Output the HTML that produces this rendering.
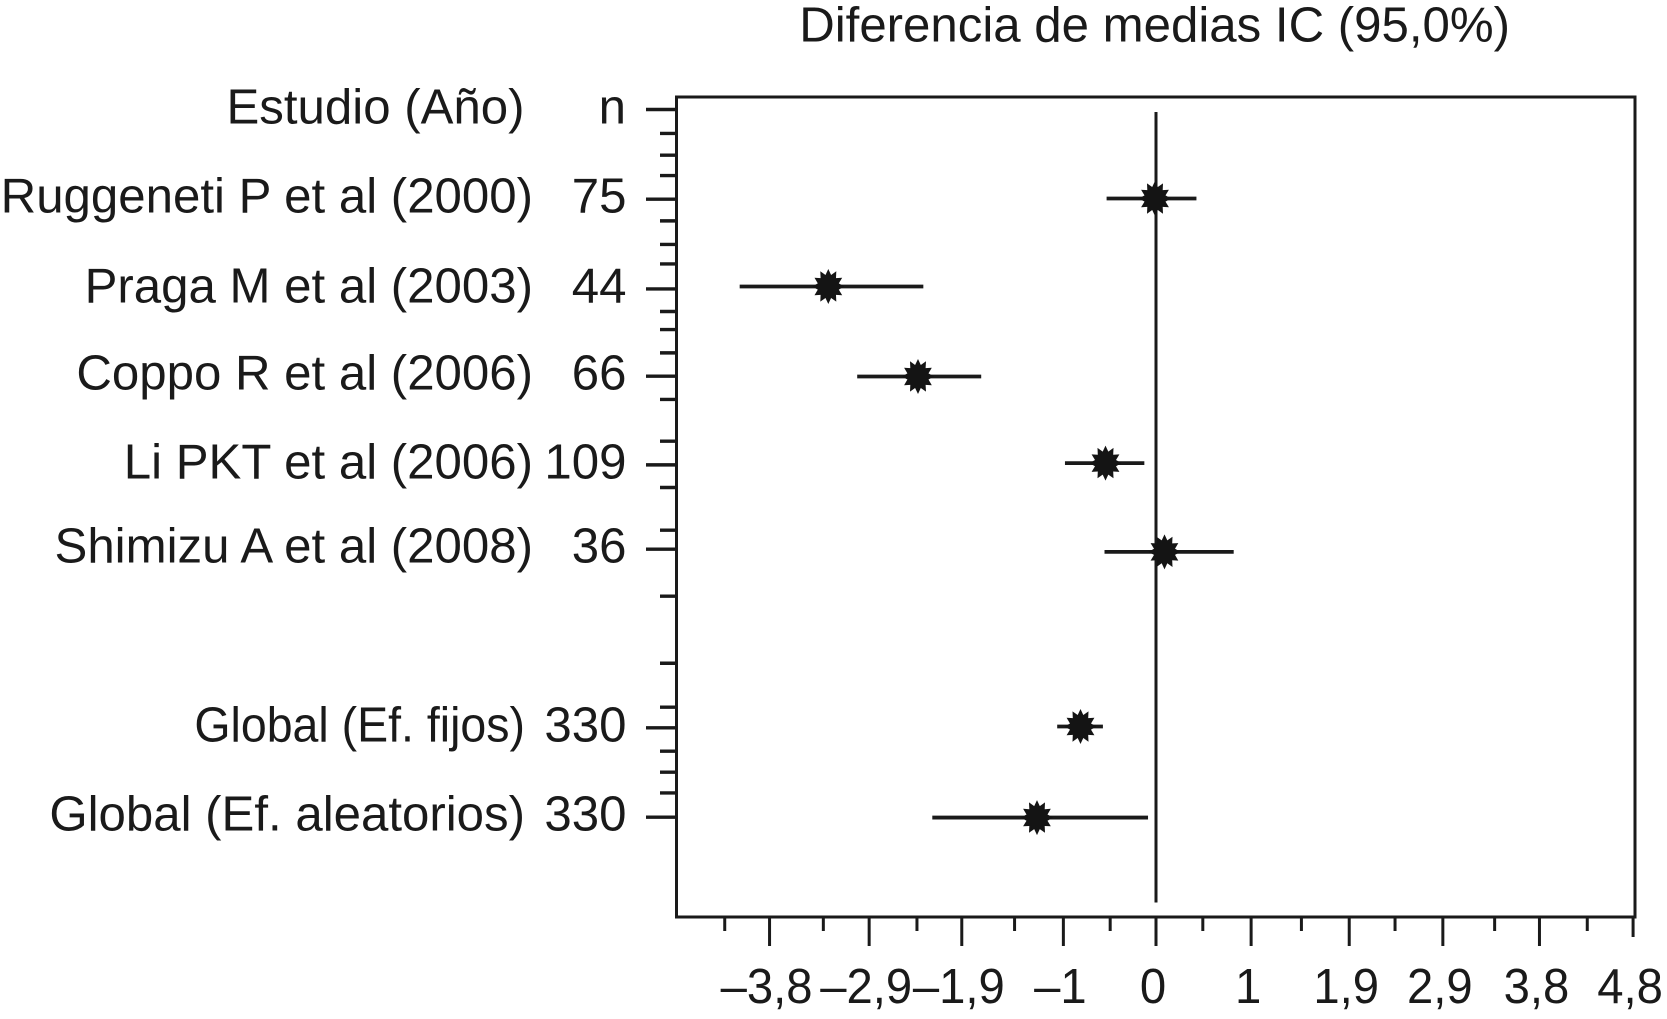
<!DOCTYPE html>
<html lang="es">
<head>
<meta charset="utf-8">
<title>Diferencia de medias IC (95,0%)</title>
<style>
html,body{margin:0;padding:0;background:#fff;width:1667px;height:1019px;overflow:hidden}
svg{display:block}
text{font-family:"Liberation Sans",Arial,sans-serif;font-size:49.2px;fill:#1a1a1a}
</style>
</head>
<body>
<svg id="chart" xmlns="http://www.w3.org/2000/svg" width="1667" height="1019" viewBox="0 0 1667 1019">
  <rect x="0" y="0" width="1667" height="1019" fill="#fff"/>
  <text x="1510" y="41.5" text-anchor="end">Diferencia de medias IC (95,0%)</text>
  <text x="524.5" y="123.3" text-anchor="end">Estudio (Año)</text>
  <text x="626" y="123.3" text-anchor="end">n</text>
  <rect x="676.5" y="97" width="958.5" height="820" fill="none" stroke="#1a1a1a" stroke-width="3"/>
  <g id="y-ticks"></g>
  <g id="x-ticks"></g>
  <g id="x-labels"></g>
  <g id="zero-line-group"></g>
  <g id="rows"></g>
</svg>
<script>
// Study data (mean difference with 95% CI)
const studies = ["Ruggeneti P et al (2000)", "Praga M et al (2003)", "Coppo R et al (2006)", "Li PKT et al (2006)", "Shimizu A et al (2008)", "Global (Ef. fijos)", "Global (Ef. aleatorios)"];
const sampleSizes = ["75", "44", "66", "109", "36", "330", "330"];
const meanDiff = [-0.01, -3.29, -2.39, -0.507, 0.085, -0.758, -1.195];
const ciLower = [-0.496, -4.18, -3.0, -0.914, -0.517, -0.992, -2.246];
const ciUpper = [0.406, -2.336, -1.755, -0.117, 0.78, -0.533, -0.08];
const rowIndex = [1.007, 2.002, 3.02, 4.0, 5.004, 6.98, 8.01];

// Axis ticks
const xMajorTicks = [-3.88, -2.88, -1.95, -0.93, 0, 0.955, 1.94, 2.88, 3.85, 4.79];
const xTickLabels = ["–3,8", "–2,9", "–1,9", "–1", "0", "1", "1,9", "2,9", "3,8", "4,8"];
const xMinorTicks = [-4.33, -3.34, -2.4, -1.42, -0.46, 0.47, 1.46, 2.4, 3.4, 4.33];
const yMajorTicks = [0, 1.015, 2.03, 3.017, 4.02, 4.974, 6.995, 8.006];
const yMinorTicks = [0.271, 0.517, 0.747, 1.26, 1.527, 1.747, 2.285, 2.489, 2.753, 3.28, 3.752, 4.276, 4.759, 5.505, 6.264, 6.761, 7.259, 7.497, 7.731];

const NS = "http://www.w3.org/2000/svg";
const INK = "#1a1a1a";
function xAxis(v) { return 1156 + v * 99.6; }
function yAxis(r) { return 109.5 + r * 88.4; }
function make(tag, attrs, parent) {
  const el = document.createElementNS(NS, tag);
  for (const k in attrs) el.setAttribute(k, attrs[k]);
  parent.appendChild(el);
  return el;
}
function condense(el, k) {
  el.setAttribute("textLength", (el.getComputedTextLength() * k).toFixed(1));
  el.setAttribute("lengthAdjust", "spacingAndGlyphs");
}
function starPoints(cx, cy) {
  const pts = [];
  const spikes = 12;
  for (let i = 0; i < spikes * 2; i++) {
    const a = Math.PI * i / spikes - Math.PI / 2;
    const k = i % 2 === 0 ? 1 : 0.68;
    pts.push((cx + 16 * k * Math.cos(a)).toFixed(1) + "," + (cy + 17.5 * k * Math.sin(a)).toFixed(1));
  }
  return pts.join(" ");
}

const yTicksG = document.getElementById("y-ticks");
const xTicksG = document.getElementById("x-ticks");
const xLabelsG = document.getElementById("x-labels");
const zeroG = document.getElementById("zero-line-group");
const rowsG = document.getElementById("rows");

yMajorTicks.forEach(function (r) {
  const t = make("line", {x1: 646, x2: 676.5, y1: yAxis(r), y2: yAxis(r), stroke: INK, "stroke-width": 3.4}, yTicksG);
  
  
});
yMinorTicks.forEach(function (r) {
  const t = make("line", {x1: 660, x2: 676.5, y1: yAxis(r), y2: yAxis(r), stroke: INK, "stroke-width": 3.4}, yTicksG);
  
  
});
xMajorTicks.forEach(function (v, i) {
  const last = i === xMajorTicks.length - 1;
  const t = make("line", {x1: xAxis(v), x2: xAxis(v), y1: 917, y2: last ? 937 : 946, stroke: INK, "stroke-width": 3}, xTicksG);
  
  
  const label = make("text", {x: xAxis(v) - 3, y: 1003, "text-anchor": "middle"}, xLabelsG);
  label.textContent = xTickLabels[i];
  
  
  condense(label, 0.96);
});
xMinorTicks.forEach(function (v) {
  const t = make("line", {x1: xAxis(v), x2: xAxis(v), y1: 917, y2: 931, stroke: INK, "stroke-width": 3}, xTicksG);
  
  
});

const zero = make("line", {x1: xAxis(0), x2: xAxis(0), y1: 112, y2: 902.5, stroke: INK, "stroke-width": 3}, zeroG);



studies.forEach(function (name, i) {
  const y = yAxis(rowIndex[i]);
  const isGlobal = name.indexOf("Global") === 0;
  const baseline = yAxis(yMajorTicks[i + 1]) + 13.5;

  const nameText = make("text", {x: isGlobal ? 525 : 533, y: baseline, "text-anchor": "end"}, rowsG);
  nameText.textContent = name;
  
  
  if (name.indexOf("fijos") !== -1) condense(nameText, 0.945);

  const nText = make("text", {x: 626.5, y: baseline, "text-anchor": "end"}, rowsG);
  nText.textContent = sampleSizes[i];
  
  

  const ci = make("line", {x1: xAxis(ciLower[i]), x2: xAxis(ciUpper[i]), y1: y, y2: y, stroke: INK, "stroke-width": 3.8}, rowsG);
  
  

  const star = make("polygon", {points: starPoints(xAxis(meanDiff[i]), y), fill: "#141414"}, rowsG);
  
  
});
</script>
</body>
</html>
